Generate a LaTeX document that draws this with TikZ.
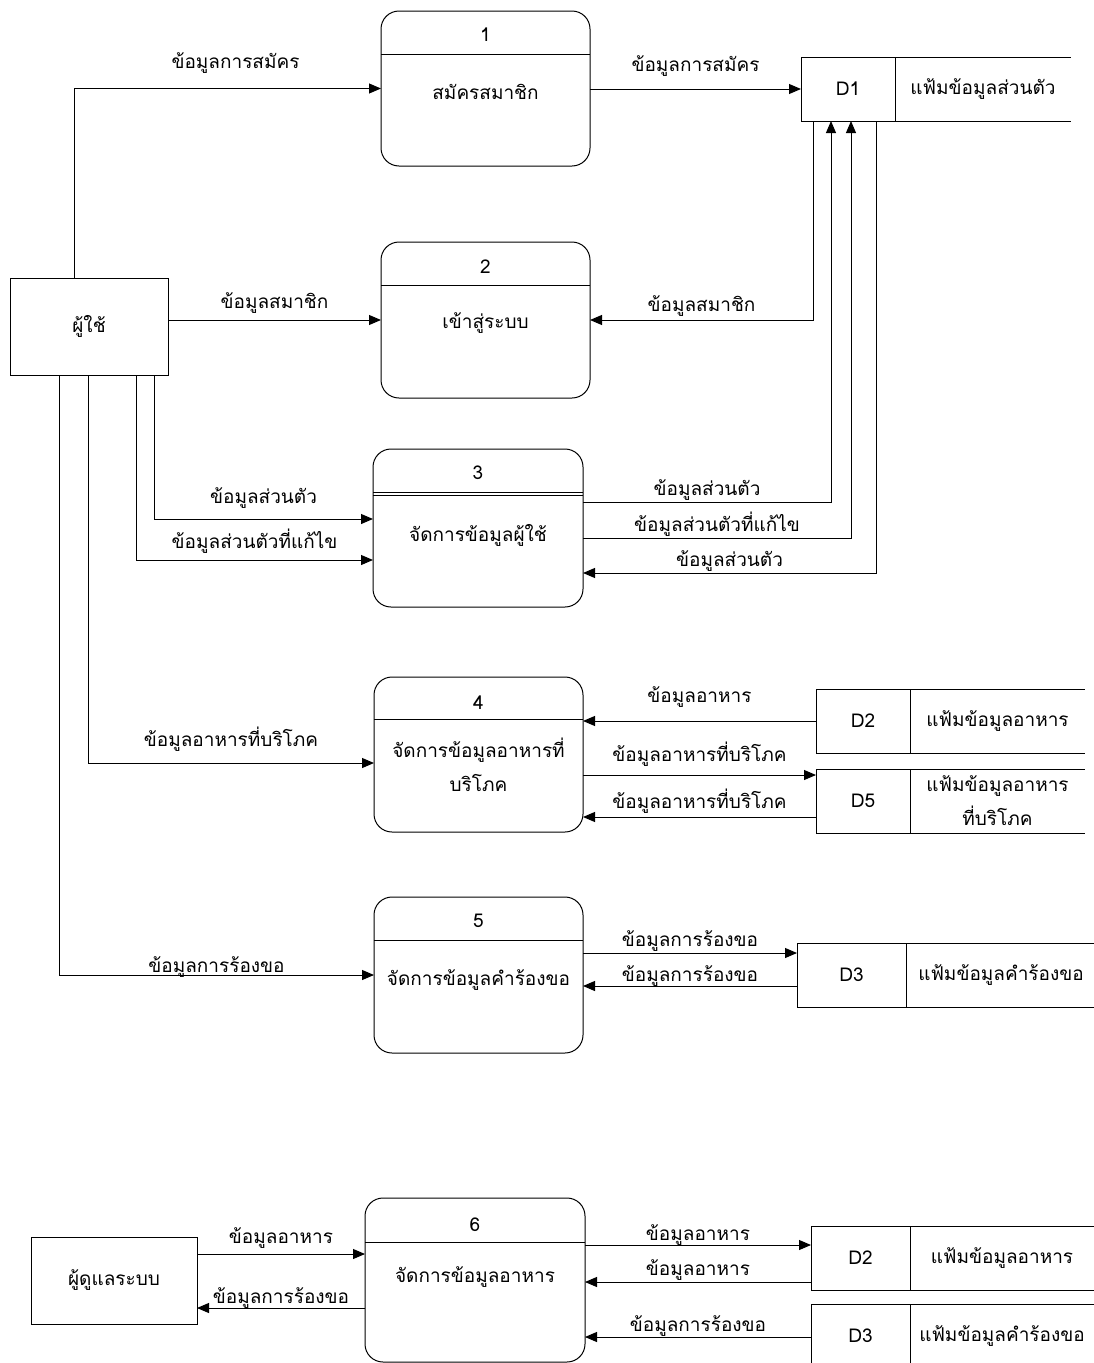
\documentclass[tikz,border=0pt]{standalone}
\usepackage{fontspec}
\setmainfont[Script=Thai]{Loma}
\usetikzlibrary{arrows.meta}

\begin{document}
\begin{tikzpicture}[
    x=1pt, y=-1pt,
    font=\fontsize{19}{25}\selectfont,
    proc/.style={rectangle, draw=black, line width=1pt, rounded corners=18pt, outer sep=0pt},
    entity/.style={rectangle, draw=black, line width=1pt, outer sep=0pt, align=center},
    storeid/.style={rectangle, draw=black, line width=1pt, outer sep=0pt, minimum height=64pt},
    storename/.style={rectangle, outer sep=0pt, minimum height=64pt, anchor=west, align=center},
    twoline/.style={align=center, font=\fontsize{19}{34}\selectfont},
    flow/.style={-{Triangle[length=12pt, width=10pt]}, line width=1pt},
    lbl/.style={above, inner sep=2pt}
]
    \useasboundingbox (0,0) rectangle (1094,1363);

    % External entities
    \node[entity, minimum width=158pt, minimum height=97pt] (user) at (89,326.5) {ผู้ใช้};
    \node[entity, minimum width=166pt, minimum height=87pt] (admin) at (114,1280.5) {ผู้ดูแลระบบ};

    % Processes (number on top, name below the divider)
    \node[proc, minimum width=209pt, minimum height=155pt] (p1) at (485.5,88.5) {};
    \draw[line width=1pt] (p1.west |- 0,54) -- (p1.east |- 0,54);
    \node (p1n) at (p1.north |- 0,35) {1};
    \node (p1t) at (p1.north |- 0,92) {สมัครสมาชิก};

    \node[proc, minimum width=209pt, minimum height=156pt] (p2) at (485.5,320) {};
    \draw[line width=1pt] (p2.west |- 0,285) -- (p2.east |- 0,285);
    \node (p2n) at (p2.north |- 0,267) {2};
    \node (p2t) at (p2.north |- 0,323) {เข้าสู่ระบบ};

    \node[proc, minimum width=210pt, minimum height=158pt] (p3) at (478,528) {};
    \draw[line width=1pt] (p3.west |- 0,492) -- (p3.east |- 0,492);
    \draw[line width=1pt] (p3.west |- 0,495) -- (p3.east |- 0,495);
    \node (p3n) at (p3.north |- 0,473) {3};
    \node (p3t) at (p3.north |- 0,535) {จัดการข้อมูลผู้ใช้};

    \node[proc, minimum width=209pt, minimum height=155pt] (p4) at (478.5,754.5) {};
    \draw[line width=1pt] (p4.west |- 0,719) -- (p4.east |- 0,719);
    \node (p4n) at (p4.north |- 0,703) {4};
    \node[twoline] (p4t) at (p4.north |- 0,765) {จัดการข้อมูลอาหารที่\\บริโภค};

    \node[proc, minimum width=209pt, minimum height=156pt] (p5) at (478.5,975) {};
    \draw[line width=1pt] (p5.west |- 0,940) -- (p5.east |- 0,940);
    \node (p5n) at (p5.north |- 0,921) {5};
    \node (p5t) at (p5.north |- 0,980) {จัดการข้อมูลคำร้องขอ};

    \node[proc, minimum width=220pt, minimum height=164pt] (p6) at (475,1280) {};
    \draw[line width=1pt] (p6.west |- 0,1242) -- (p6.east |- 0,1242);
    \node (p6n) at (p6.north |- 0,1225) {6};
    \node (p6t) at (p6.north |- 0,1277) {จัดการข้อมูลอาหาร};

    % Data stores (open on the right)
    \node[storeid, minimum width=94pt] (d1) at (848,89) {D1};
    \node[storename, minimum width=176pt] (d1n) at (d1.east) {แฟ้มข้อมูลส่วนตัว};
    \draw[line width=1pt] (d1n.north west) -- (d1n.north east) (d1n.south west) -- (d1n.south east);

    \node[storeid, minimum width=94pt] (d2) at (863,721) {D2};
    \node[storename, minimum width=175pt] (d2n) at (d2.east) {แฟ้มข้อมูลอาหาร};
    \draw[line width=1pt] (d2n.north west) -- (d2n.north east) (d2n.south west) -- (d2n.south east);

    \node[storeid, minimum width=94pt] (d5) at (863,801) {D5};
    \node[storename, twoline, minimum width=175pt] (d5n) at (d5.east) {แฟ้มข้อมูลอาหาร\\ที่บริโภค};
    \draw[line width=1pt] (d5n.north west) -- (d5n.north east) (d5n.south west) -- (d5n.south east);

    \node[storeid, minimum width=109pt] (d3) at (851.5,975) {D3};
    \node[storename, minimum width=190pt] (d3n) at (d3.east) {แฟ้มข้อมูลคำร้องขอ};
    \draw[line width=1pt] (d3n.north west) -- (d3n.north east) (d3n.south west) -- (d3n.south east);

    \node[storeid, minimum width=99pt] (d2b) at (860.5,1258) {D2};
    \node[storename, minimum width=184pt] (d2bn) at (d2b.east) {แฟ้มข้อมูลอาหาร};
    \draw[line width=1pt] (d2bn.north west) -- (d2bn.north east) (d2bn.south west) -- (d2bn.south east);

    \node[storeid, minimum width=99pt] (d3b) at (860.5,1336) {D3};
    \node[storename, minimum width=184pt] (d3bn) at (d3b.east) {แฟ้มข้อมูลคำร้องขอ};
    \draw[line width=1pt] (d3bn.north west) -- (d3bn.north east);

    % Flows: user
    \draw[flow] (user.north -| 74,0) |- (p1.west) node[lbl, pos=0.75, yshift=13pt, xshift=8pt] {ข้อมูลการสมัคร};
    \draw[flow] (user.east |- p2.west) -- node[lbl, yshift=4pt] {ข้อมูลสมาชิก} (p2.west);
    \draw[flow] (user.south -| 154,0) |- (p3.west |- 0,519) node[lbl, pos=0.75, yshift=8pt] {ข้อมูลส่วนตัว};
    \draw[flow] (user.south -| 136,0) |- (p3.west |- 0,560) node[lbl, pos=0.75, yshift=4pt] {ข้อมูลส่วนตัวที่แก้ไข};
    \draw[flow] (user.south -| 88,0) |- (p4.west |- 0,763) node[lbl, pos=0.75, yshift=9pt] {ข้อมูลอาหารที่บริโภค};
    \draw[flow] (user.south -| 59,0) |- (p5.west) node[lbl, pos=0.75, yshift=-5pt] {ข้อมูลการร้องขอ};

    % Flows: D1
    \draw[flow] (p1.east |- d1.west) -- node[lbl, yshift=10pt] {ข้อมูลการสมัคร} (d1.west);
    \draw[flow] (d1.south -| 813,0) |- (p2.east) node[lbl, pos=0.75, yshift=1pt] {ข้อมูลสมาชิก};
    \draw[flow] (p3.east |- 0,502) -| (d1.south -| 831,0) node[lbl, pos=0.25, yshift=-1pt] {ข้อมูลส่วนตัว};
    \draw[flow] (p3.east |- 0,538) -| (d1.south -| 851,0) node[lbl, pos=0.25, yshift=-1pt] {ข้อมูลส่วนตัวที่แก้ไข};
    \draw[flow] (d1.south -| 876,0) |- (p3.east |- 0,573) node[lbl, pos=0.75, yshift=-1pt] {ข้อมูลส่วนตัว};

    % Flows: D2, D5
    \draw[flow] (d2.west) -- node[lbl, yshift=11pt] {ข้อมูลอาหาร} (p4.east |- d2.west);
    \draw[flow] (p4.east |- 0,775) -- node[lbl, yshift=6pt] {ข้อมูลอาหารที่บริโภค} (d5.west |- 0,775);
    \draw[flow] (d5.west |- 0,817) -- node[lbl, yshift=1pt] {ข้อมูลอาหารที่บริโภค} (p4.east |- 0,817);

    % Flows: D3
    \draw[flow] (p5.east |- 0,953) -- node[lbl, yshift=-1pt] {ข้อมูลการร้องขอ} (d3.west |- 0,953);
    \draw[flow] (d3.west |- 0,986) -- node[lbl, yshift=-3pt] {ข้อมูลการร้องขอ} (p5.east |- 0,986);

    % Flows: admin
    \draw[flow] (admin.east |- 0,1254) -- node[lbl, yshift=3pt] {ข้อมูลอาหาร} (p6.west |- 0,1254);
    \draw[flow] (p6.west |- 0,1308) -- node[lbl, yshift=-3pt] {ข้อมูลการร้องขอ} (admin.east |- 0,1308);
    \draw[flow] (p6.east |- 0,1245) -- node[lbl, yshift=-3pt] {ข้อมูลอาหาร} (d2b.west |- 0,1245);
    \draw[flow] (d2b.west |- 0,1282) -- node[lbl, yshift=-1pt] {ข้อมูลอาหาร} (p6.east |- 0,1282);
    \draw[flow] (d3b.west |- 0,1337) -- node[lbl, yshift=-2pt] {ข้อมูลการร้องขอ} (p6.east |- 0,1337);
\end{tikzpicture}
\end{document}
